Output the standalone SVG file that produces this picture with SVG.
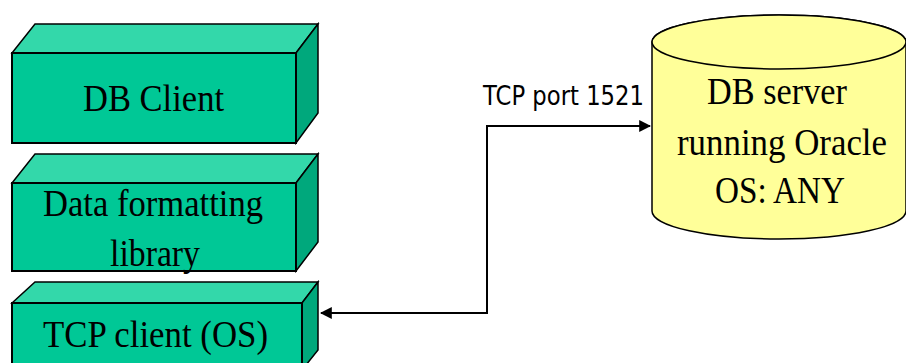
<svg xmlns="http://www.w3.org/2000/svg" width="906" height="363" viewBox="0 0 906 363">
<style>
.front{fill:#00C896;stroke:#000;stroke-width:2}
.top{fill:#33D8AA;stroke:#000;stroke-width:1.5}
.side{fill:#00A87C;stroke:#000;stroke-width:1.5}
.lbl{font-family:"Liberation Serif","Times New Roman",serif;font-size:38px;fill:#000;text-anchor:start}
.cyl{fill:#FFFF99;stroke:#000;stroke-width:1.5}
.conn{fill:none;stroke:#000;stroke-width:2}
.port{font-family:"DejaVu Sans","Liberation Sans",sans-serif;font-size:26px;fill:#000}
</style>
<defs>
<marker id="arr" viewBox="0 0 10 10" refX="9" refY="5" markerWidth="6" markerHeight="6" orient="auto-start-reverse" markerUnits="strokeWidth">
<path d="M0,0 L10,5 L0,10 z" fill="#000"/>
</marker>
</defs>
<g id="db-client">
<polygon class="top" points="12,53 35,24 318,24 296,53"/>
<polygon class="side" points="296,53 318,24 318,113 296,143"/>
<rect class="front" x="12" y="53" width="284" height="90"/>
<text class="lbl" x="83" y="111" textLength="141" lengthAdjust="spacingAndGlyphs">DB Client</text>
</g>
<g id="data-formatting">
<polygon class="top" points="12,183 35,154 318,154 296,183"/>
<polygon class="side" points="296,183 318,154 318,242 296,271"/>
<rect class="front" x="12" y="183" width="284" height="88"/>
<text class="lbl" x="43" y="216" textLength="220" lengthAdjust="spacingAndGlyphs">Data formatting</text>
<text class="lbl" x="110" y="266" textLength="90" lengthAdjust="spacingAndGlyphs">library</text>
</g>
<g id="tcp-client">
<polygon class="top" points="12,303 35,282 318,282 302,303"/>
<polygon class="side" points="302,303 318,282 318,350 302,370"/>
<rect class="front" x="12" y="303" width="290" height="70"/>
<text class="lbl" x="43" y="347" textLength="225" lengthAdjust="spacingAndGlyphs">TCP client (OS)</text>
</g>
<g id="db-server">
<path class="cyl" d="M652,42 L652,211 A127,28 0 0 0 906,211 L906,42 A127,27 0 0 0 652,42 Z"/>
<ellipse class="cyl" cx="779" cy="42" rx="127" ry="27"/>
<text class="lbl" x="707" y="104" textLength="140" lengthAdjust="spacingAndGlyphs">DB server</text>
<text class="lbl" x="677" y="155" textLength="210" lengthAdjust="spacingAndGlyphs">running Oracle</text>
<text class="lbl" x="715" y="203" textLength="130" lengthAdjust="spacingAndGlyphs">OS: ANY</text>
</g>
<g id="connectors">
<polyline class="conn" points="321,313 487,313 487,126 650,126" marker-start="url(#arr)" marker-end="url(#arr)"/>
<text class="port" x="483" y="105" textLength="161" lengthAdjust="spacingAndGlyphs">TCP port 1521</text>
</g>
</svg>
